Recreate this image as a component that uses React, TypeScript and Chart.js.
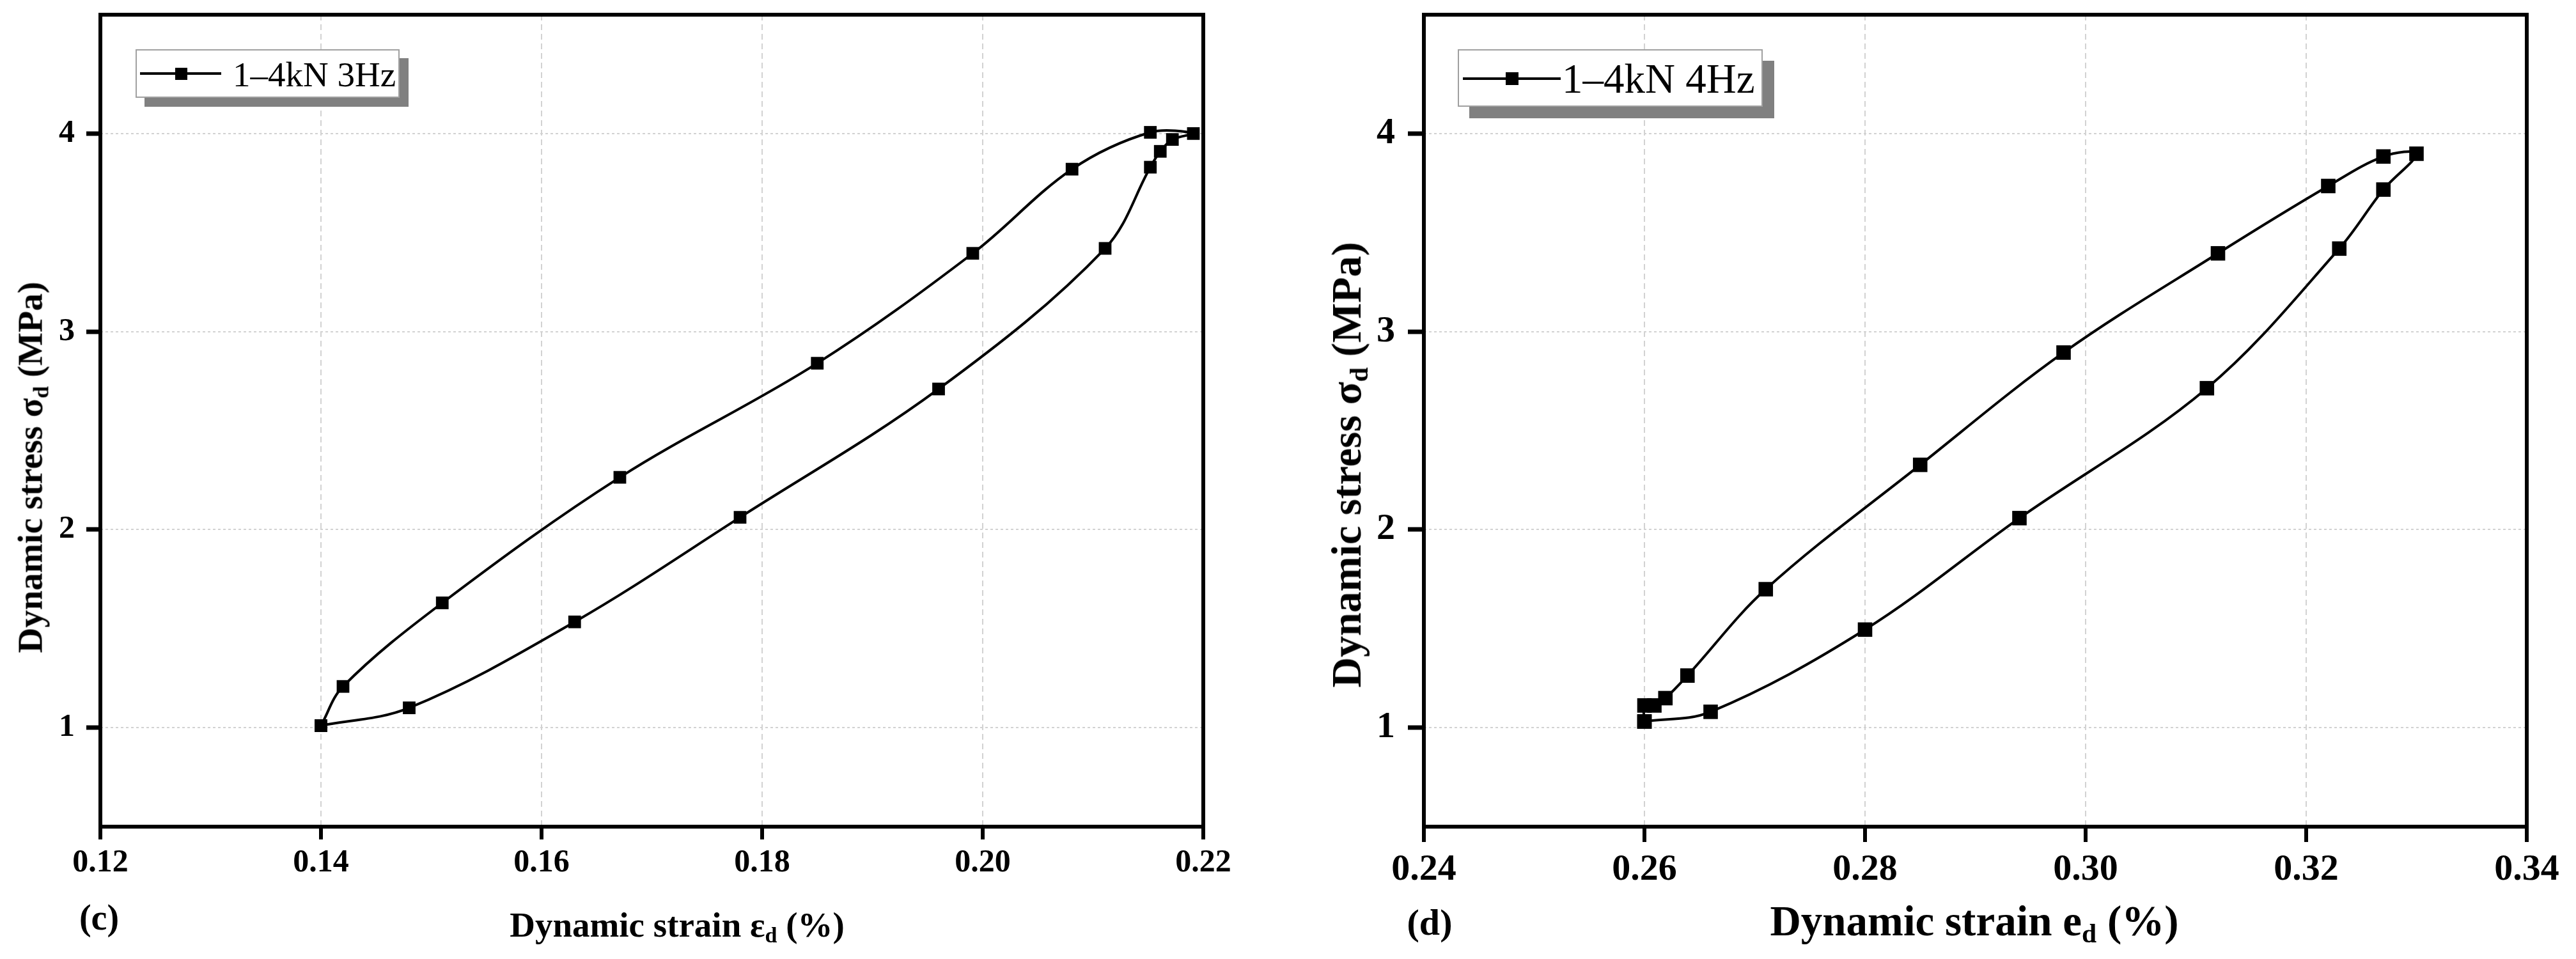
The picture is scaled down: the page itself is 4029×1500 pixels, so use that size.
import React, { useEffect, useRef } from 'react';
import { Chart, registerables } from 'chart.js';

Chart.register(...registerables);

// panel (c): 1-4kN at 3Hz, loop
const strainC = [0.14, 0.148, 0.163, 0.178, 0.196, 0.2111, 0.2152, 0.2161, 0.2172, 0.2191, 0.2152, 0.2081, 0.1991, 0.185, 0.1671, 0.151, 0.142, 0.14];
const stressC = [1.01, 1.1, 1.534, 2.062, 2.71, 3.42, 3.83, 3.91, 3.97, 4.0, 4.006, 3.82, 3.395, 2.84, 2.264, 1.63, 1.208, 1.01];

// panel (d): 1-4kN at 4Hz
const strainD = [0.26, 0.266, 0.28, 0.294, 0.311, 0.323, 0.327, 0.33, 0.327, 0.322, 0.312, 0.298, 0.285, 0.271, 0.2639, 0.2619, 0.2609, 0.26, 0.26];
const stressD = [1.031, 1.08, 1.495, 2.058, 2.714, 3.419, 3.717, 3.898, 3.884, 3.735, 3.395, 2.894, 2.327, 1.699, 1.263, 1.149, 1.112, 1.112, 1.031];

const xTicksC = [0.12, 0.14, 0.16, 0.18, 0.2, 0.22];
const xTicksD = [0.24, 0.26, 0.28, 0.3, 0.32, 0.34];
const yTicks = [1, 2, 3, 4];
const yRange = [0.5, 4.6];

const labelC = '1\u20134kN 3Hz';
const labelD = '1\u20134kN 4Hz';
const xTitleC = ['Dynamic strain \u03b5', 'd', ' (%)'];
const xTitleD = ['Dynamic strain e', 'd', ' (%)'];
const yTitle = ['Dynamic stress \u03c3', 'd', ' (MPa)'];

const serif = "'Liberation Serif', 'Times New Roman', Times, serif";

const framePlugin = {
  id: 'frame',
  afterDatasetsDraw(chart: any) {
    const { ctx, chartArea: a } = chart;
    ctx.save();
    ctx.strokeStyle = '#000';
    ctx.lineWidth = 6;
    ctx.strokeRect(a.left, a.top, a.right - a.left, a.bottom - a.top);
    ctx.restore();
  },
};

type PanelProps = {
  strain: number[];
  stress: number[];
  label: string;
  xTicks: number[];
  left: number;
  width: number;
  yAxisWidth: number;
  rightPad: number;
  tickSize: number;
  xTickLen: number;
  yTickLen: number;
  xTickPad: number;
  yTickPad: number;
  marker: number;
};

const Panel = (p: PanelProps) => {
  const ref = useRef<HTMLCanvasElement>(null);

  useEffect(() => {
    if (!ref.current) return;
    const font = { family: serif, size: p.tickSize, weight: 'bold' as const };
    const chart = new Chart(ref.current, {
      type: 'scatter',
      data: {
        datasets: [
          {
            label: p.label,
            data: p.strain.map((x, i) => ({ x, y: p.stress[i] })),
            showLine: true,
            borderColor: '#000',
            borderWidth: 4,
            tension: 0.35,
            pointStyle: 'rect',
            pointRadius: p.marker,
            pointHoverRadius: p.marker,
            pointBackgroundColor: '#000',
            pointBorderWidth: 0,
          },
        ],
      },
      options: {
        animation: false,
        responsive: false,
        devicePixelRatio: 1,
        layout: { padding: { left: 0, top: 23, right: p.rightPad, bottom: 0 } },
        plugins: { legend: { display: false }, tooltip: { enabled: false } },
        scales: {
          x: {
            type: 'linear',
            min: p.xTicks[0],
            max: p.xTicks[p.xTicks.length - 1],
            afterBuildTicks: (s: any) => {
              s.ticks = p.xTicks.map((v) => ({ value: v }));
            },
            afterFit: (s: any) => {
              s.height = 1500 - 1293;
              s.paddingLeft = 0;
              s.paddingRight = 0;
            },
            ticks: { font, color: '#000', padding: p.xTickPad, callback: (v: any) => Number(v).toFixed(2) },
            grid: {
              color: '#d2d2d2',
              lineWidth: 2,
              tickColor: '#000',
              tickWidth: 6,
              tickLength: p.xTickLen,
            },
            border: { display: false, dash: [9, 6] },
          },
          y: {
            type: 'linear',
            min: yRange[0],
            max: yRange[1],
            afterBuildTicks: (s: any) => {
              s.ticks = yTicks.map((v) => ({ value: v }));
            },
            afterFit: (s: any) => {
              s.width = p.yAxisWidth;
              s.paddingTop = 0;
              s.paddingBottom = 0;
            },
            ticks: { font, color: '#000', padding: p.yTickPad },
            grid: {
              color: '#d2d2d2',
              lineWidth: 2,
              tickColor: '#000',
              tickWidth: 7,
              tickLength: p.yTickLen,
            },
            border: { display: false, dash: [4, 4] },
          },
        },
      },
      plugins: [framePlugin],
    });
    return () => chart.destroy();
  }, []);

  return (
    <canvas
      ref={ref}
      width={p.width}
      height={1500}
      style={{ position: 'absolute', left: p.left, top: 0, width: p.width, height: 1500 }}
    />
  );
};

const Title = ({ parts, cx, cy, size, vertical }: { parts: string[]; cx: number; cy: number; size: number; vertical?: boolean }) => (
  <div
    style={{
      position: 'absolute',
      left: cx,
      top: cy,
      height: size,
      lineHeight: `${size}px`,
      fontSize: size,
      fontFamily: serif,
      fontWeight: 'bold',
      whiteSpace: 'nowrap',
      transform: `translate(-50%, -50%)${vertical ? ' rotate(-90deg)' : ''}`,
    }}
  >
    {parts[0]}
    <span style={{ fontSize: '0.62em', verticalAlign: '-0.28em' }}>{parts[1]}</span>
    {parts[2]}
  </div>
);

type LegendProps = {
  label: string;
  left: number;
  top: number;
  width: number;
  height: number;
  shadow: number;
  lineX0: number;
  lineX1: number;
  lineY: number;
  markX: number;
  mark: number;
  textX: number;
  textY: number;
  size: number;
};

const Legend = (l: LegendProps) => (
  <div
    style={{
      position: 'absolute',
      left: l.left,
      top: l.top,
      width: l.width,
      height: l.height,
      boxSizing: 'border-box',
      border: '2px solid #a0a0a0',
      background: '#fff',
      boxShadow: `${l.shadow}px ${l.shadow}px 0 #808080`,
    }}
  >
    <div style={{ position: 'absolute', left: l.lineX0, top: l.lineY - 2, width: l.lineX1 - l.lineX0, height: 4, background: '#000' }} />
    <div style={{ position: 'absolute', left: l.markX - l.mark / 2, top: l.lineY - l.mark / 2, width: l.mark, height: l.mark, background: '#000' }} />
    <div
      style={{
        position: 'absolute',
        left: l.textX,
        top: l.textY,
        fontSize: l.size,
        lineHeight: `${l.size}px`,
        fontFamily: serif,
        whiteSpace: 'nowrap',
      }}
    >
      {l.label}
    </div>
  </div>
);

export default function App() {
  return (
    <div style={{ position: 'absolute', left: 0, top: 0, width: 4029, height: 1500, overflow: 'hidden', background: '#fff' }}>
      <Panel
        strain={strainC}
        stress={stressC}
        label={labelC}
        xTicks={xTicksC}
        left={0}
        width={2010}
        yAxisWidth={157}
        rightPad={128}
        tickSize={50}
        xTickLen={20}
        yTickLen={22}
        xTickPad={7}
        yTickPad={18}
        marker={14}
      />
      <Panel
        strain={strainD}
        stress={stressD}
        label={labelD}
        xTicks={xTicksD}
        left={2010}
        width={2019}
        yAxisWidth={217}
        rightPad={77}
        tickSize={58}
        xTickLen={24}
        yTickLen={25}
        xTickPad={9}
        yTickPad={20}
        marker={16}
      />

      <Title parts={xTitleC} cx={1059} cy={1446} size={55} />
      <Title parts={yTitle} cx={47} cy={731} size={55} vertical />
      <Title parts={xTitleD} cx={3088} cy={1440} size={67} />
      <Title parts={yTitle} cx={2106} cy={727} size={66} vertical />

      <div style={{ position: 'absolute', left: 155, top: 1435, transform: 'translate(-50%, -50%)', fontFamily: serif, fontWeight: 'bold', fontSize: 56, lineHeight: '56px' }}>(c)</div>
      <div style={{ position: 'absolute', left: 2236, top: 1443, transform: 'translate(-50%, -50%)', fontFamily: serif, fontWeight: 'bold', fontSize: 58, lineHeight: '58px' }}>(d)</div>

      <Legend label={labelC} left={212} top={77} width={413} height={76} shadow={14} lineX0={5} lineX1={132} lineY={36} markX={69} mark={19} textX={150} textY={10} size={55} />
      <Legend label={labelD} left={2280} top={77} width={477} height={90} shadow={18} lineX0={6} lineX1={159} lineY={44} markX={83} mark={20} textX={161} textY={12} size={65} />
    </div>
  );
}
